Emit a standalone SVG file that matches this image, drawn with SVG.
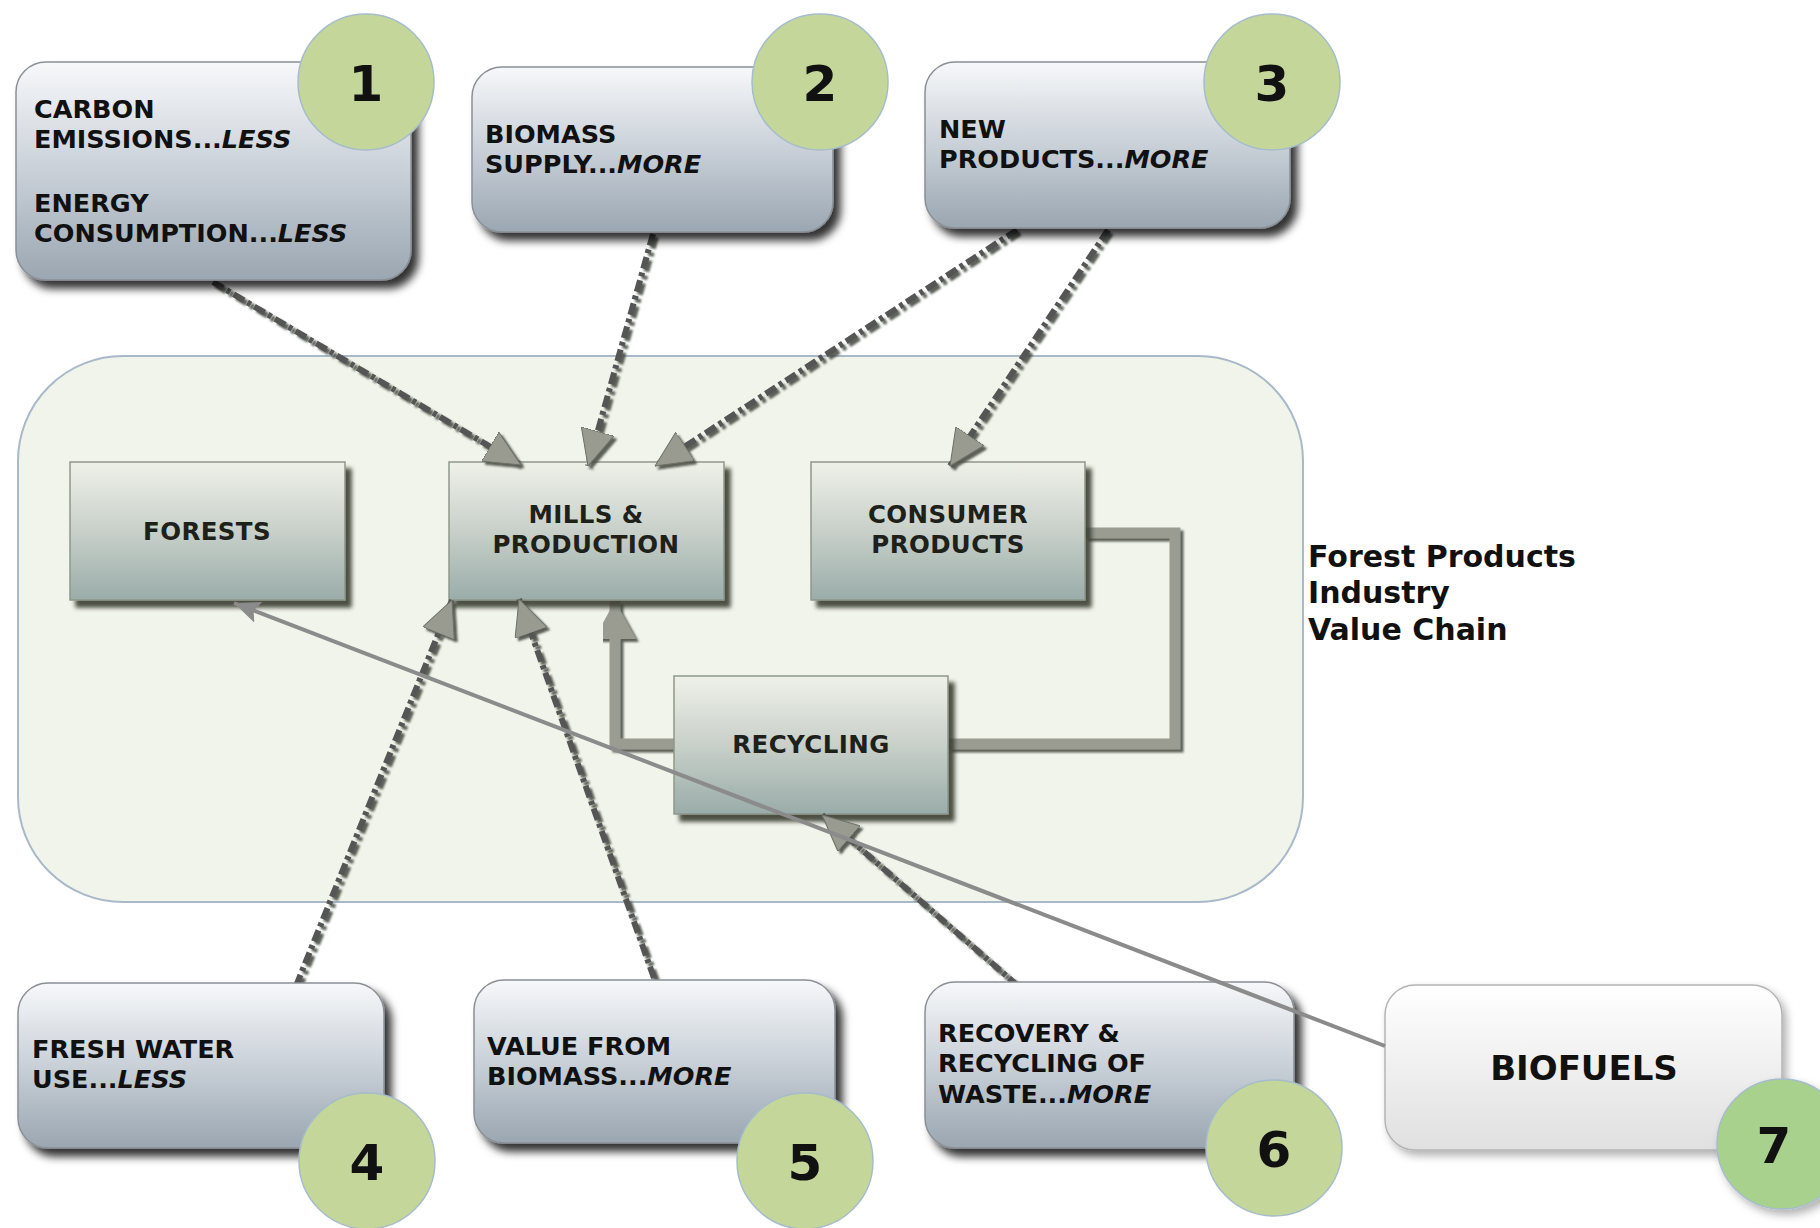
<svg xmlns="http://www.w3.org/2000/svg" width="1820" height="1228" viewBox="0 0 1820 1228">
<defs>
<linearGradient id="boxGrad" x1="0" y1="0" x2="0" y2="1">
<stop offset="0" stop-color="#f7f8fa"/>
<stop offset="0.5" stop-color="#c9d0d8"/>
<stop offset="1" stop-color="#9aa6b1"/>
</linearGradient>
<linearGradient id="innerGrad" x1="0" y1="0" x2="0" y2="1">
<stop offset="0" stop-color="#eff1e9"/>
<stop offset="0.5" stop-color="#c8d0c9"/>
<stop offset="1" stop-color="#9aaca9"/>
</linearGradient>
<linearGradient id="bioGrad" x1="0" y1="0" x2="0" y2="1">
<stop offset="0" stop-color="#ffffff"/>
<stop offset="1" stop-color="#e0e0e0"/>
</linearGradient>
<filter id="boxShadow" x="-10%" y="-10%" width="130%" height="140%">
<feDropShadow dx="7" dy="8" stdDeviation="4" flood-color="#000" flood-opacity="0.8"/>
</filter>
<filter id="bioShadow" x="-10%" y="-10%" width="130%" height="140%">
<feDropShadow dx="4" dy="5" stdDeviation="4" flood-color="#000" flood-opacity="0.3"/>
</filter>
<filter id="innerShadow" x="-10%" y="-10%" width="130%" height="140%">
<feDropShadow dx="6" dy="7" stdDeviation="2" flood-color="#3a3d31" flood-opacity="0.9"/>
</filter>
<filter id="arrowShadow" x="-20%" y="-20%" width="140%" height="140%">
<feDropShadow dx="3" dy="3" stdDeviation="1" flood-color="#4c4f45" flood-opacity="0.9"/>
</filter>
<marker id="ahDash" viewBox="0 0 36 34" refX="36" refY="17" markerWidth="36" markerHeight="34" orient="auto" markerUnits="userSpaceOnUse">
<path d="M0,0 L36,17 L0,34 Z" fill="#999b90" stroke="#6d7066" stroke-width="1"/>
</marker>
<marker id="ahSolid" viewBox="0 0 38 42" refX="38" refY="21" markerWidth="38" markerHeight="42" orient="auto" markerUnits="userSpaceOnUse">
<path d="M0,0 L38,21 L0,42 Z" fill="#9a9c92"/>
</marker>
<marker id="ahThin" viewBox="0 0 26 22" refX="26" refY="11" markerWidth="26" markerHeight="22" orient="auto" markerUnits="userSpaceOnUse">
<path d="M0,0 L26,11 L0,22 L5,11 Z" fill="#8b8b8b"/>
</marker>
<style>
text { font-family: "DejaVu Sans", Verdana, "Liberation Sans", sans-serif; font-weight: bold; fill: #111; }
.box { fill: url(#boxGrad); stroke: #8b9096; stroke-width: 1.5; filter: url(#boxShadow); }
.inner { fill: url(#innerGrad); stroke: #8f968b; stroke-width: 1.5; filter: url(#innerShadow); }
.bio { fill: url(#bioGrad); stroke: #b4b4b4; stroke-width: 1.5; filter: url(#bioShadow); }
.badge { fill: #c5d69b; stroke: #a6bccb; stroke-width: 1.5; }
.badge7 { fill: #a9d18e; stroke: #a6bccb; stroke-width: 1.5; filter: url(#bioShadow); }
.num { font-size: 50px; text-anchor: middle; }
.lbl { font-size: 25.5px; }
.ilbl { font-size: 24.5px; letter-spacing: 0.4px; text-anchor: middle; fill: #1e2119; }
.title { font-size: 30px; }
.dash { fill: none; stroke: #555; stroke-width: 6; stroke-dasharray: 12 4 4 4; marker-end: url(#ahDash); filter: url(#arrowShadow); }
.solid { fill: none; stroke: #9a9c92; stroke-width: 11; filter: url(#arrowShadow); }
.thin { fill: none; stroke: #8b8b8b; stroke-width: 4; marker-end: url(#ahThin); }
.it { font-style: italic; }
</style>
</defs>
<rect width="1820" height="1228" fill="#ffffff"/>

<g id="value-chain">
<rect x="18" y="356" width="1285" height="546" rx="105" fill="#f1f4ea" stroke="#a9b9c9" stroke-width="2"/>
<text class="title" x="1308" y="567">Forest Products</text>
<text class="title" x="1308" y="603">Industry</text>
<text class="title" x="1308" y="640">Value Chain</text>
</g>

<g id="connectors-solid">
<path class="solid" d="M345,533 L449,533" marker-end="url(#ahSolid)"/>
<path class="solid" d="M724,533 L812,533" marker-end="url(#ahSolid)"/>
<path class="solid" d="M1085,533 L1175,533 L1175,744 L948,744"/>
<path class="solid" d="M674,744 L615,744 L615,601" marker-end="url(#ahSolid)"/>
</g>

<g id="forests">
<rect class="inner" x="70" y="462" width="275" height="138"/>
<text class="ilbl" x="207" y="540">FORESTS</text>
</g>
<g id="mills">
<rect class="inner" x="449" y="462" width="275" height="138"/>
<text class="ilbl" x="586" y="523">MILLS &amp;</text>
<text class="ilbl" x="586" y="553">PRODUCTION</text>
</g>
<g id="consumer">
<rect class="inner" x="811" y="462" width="274" height="138"/>
<text class="ilbl" x="948" y="523">CONSUMER</text>
<text class="ilbl" x="948" y="553">PRODUCTS</text>
</g>
<g id="recycling">
<rect class="inner" x="674" y="676" width="274" height="138"/>
<text class="ilbl" x="811" y="753">RECYCLING</text>
</g>

<g id="connectors-dashed">
<path class="dash" d="M213,282 L521,465"/>
<path class="dash" d="M653,234 L588,466"/>
<path class="dash" d="M1017,230 L655,466"/>
<path class="dash" d="M1108,230 L950,466"/>
<path class="dash" d="M296,986 L452,600"/>
<path class="dash" d="M654,978 L519,599"/>
<path class="dash" d="M1018,986 L822,815"/>
</g>

<g id="n1">
<rect class="box" x="16" y="62" width="395" height="218" rx="30"/>
<text class="lbl" x="34" y="118">CARBON</text>
<text class="lbl" x="34" y="148">EMISSIONS...<tspan class="it">LESS</tspan></text>
<text class="lbl" x="34" y="212">ENERGY</text>
<text class="lbl" x="34" y="242">CONSUMPTION...<tspan class="it">LESS</tspan></text>
<circle class="badge" cx="366" cy="82" r="68"/>
<text class="num" x="366" y="101">1</text>
</g>
<g id="n2">
<rect class="box" x="472" y="67" width="361" height="165" rx="30"/>
<text class="lbl" x="485" y="143">BIOMASS</text>
<text class="lbl" x="485" y="173">SUPPLY...<tspan class="it">MORE</tspan></text>
<circle class="badge" cx="820" cy="82" r="68"/>
<text class="num" x="820" y="101">2</text>
</g>
<g id="n3">
<rect class="box" x="925" y="62" width="365" height="166" rx="30"/>
<text class="lbl" x="939" y="138">NEW</text>
<text class="lbl" x="939" y="168">PRODUCTS...<tspan class="it">MORE</tspan></text>
<circle class="badge" cx="1272" cy="82" r="68"/>
<text class="num" x="1272" y="101">3</text>
</g>
<g id="n4">
<rect class="box" x="18" y="983" width="366" height="165" rx="30"/>
<text class="lbl" x="32" y="1058">FRESH WATER</text>
<text class="lbl" x="32" y="1088">USE...<tspan class="it">LESS</tspan></text>
<circle class="badge" cx="367" cy="1161" r="68"/>
<text class="num" x="367" y="1180">4</text>
</g>
<g id="n5">
<rect class="box" x="474" y="980" width="361" height="163" rx="30"/>
<text class="lbl" x="487" y="1055">VALUE FROM</text>
<text class="lbl" x="487" y="1085">BIOMASS...<tspan class="it">MORE</tspan></text>
<circle class="badge" cx="805" cy="1161" r="68"/>
<text class="num" x="805" y="1180">5</text>
</g>
<g id="n6">
<rect class="box" x="925" y="982" width="369" height="166" rx="30"/>
<text class="lbl" x="938" y="1042">RECOVERY &amp;</text>
<text class="lbl" x="938" y="1072">RECYCLING OF</text>
<text class="lbl" x="938" y="1103">WASTE...<tspan class="it">MORE</tspan></text>
<circle class="badge" cx="1274" cy="1148" r="68"/>
<text class="num" x="1274" y="1167">6</text>
</g>
<g id="n7">
<rect class="bio" x="1385" y="985" width="397" height="165" rx="30"/>
<text x="1584" y="1080" font-size="34" text-anchor="middle">BIOFUELS</text>
<circle class="badge7" cx="1782" cy="1144" r="65"/>
<text class="num" x="1774" y="1163">7</text>
</g>

<g id="connector-biofuels">
<path class="thin" d="M1385,1046 L234,603"/>
</g>
</svg>
